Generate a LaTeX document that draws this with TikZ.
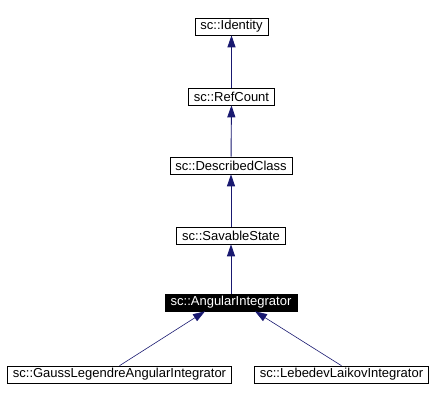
\documentclass[tikz,border=0pt]{standalone}
\usepackage{fontspec}
\setmainfont{Liberation Sans}
\usepackage{xcolor}
\usepackage{tikz}
\usetikzlibrary{arrows.meta,positioning,calc}
\definecolor{midnight}{RGB}{25,25,112}
\tikzset{cls/.style={draw=black,rectangle,inner xsep=5.5pt,inner ysep=0pt,minimum height=17pt,font=\fontsize{13}{15}\selectfont}}

\begin{document}
\begin{tikzpicture}[x=1pt, y=-1pt, >={Triangle[length=12pt,width=8pt]}, semithick]
\tikzstyle{inherit}=[draw=midnight,<-,line width=0.9pt]
\useasboundingbox (0,0) rectangle (436,401);
    \node[cls] (I) at (231.5,26.5) {sc::Identity};
    \node[cls] (R) at (231.5,96.5) {sc::RefCount};
    \node[cls] (D) at (231,165.5) {sc::DescribedClass};
    \node[cls] (S) at (231,235.5) {sc::SavableState};
    \node[cls,fill=black,text=white] (A) at (231,302.5) {sc::AngularIntegrator};
    \node[cls] (G) at (119.5,374.5) {sc::GaussLegendreAngularIntegrator};
    \node[cls] (L) at (341.5,374.5) {sc::LebedevLaikovIntegrator};

    \coordinate (Ag) at ($(A.south)+(-26,0)$);
    \coordinate (Al) at ($(A.south)+(24,0)$);

    \path (I) edge[inherit] (R);
    \path (R) edge[inherit] (D);
    \path (D) edge[inherit] (S);
    \path (S) edge[inherit] (A);
    \path (Ag) edge[inherit,line width=0.6pt] (G.north);
    \path (Al) edge[inherit,line width=0.6pt] (L.north);
\end{tikzpicture}
\end{document}
